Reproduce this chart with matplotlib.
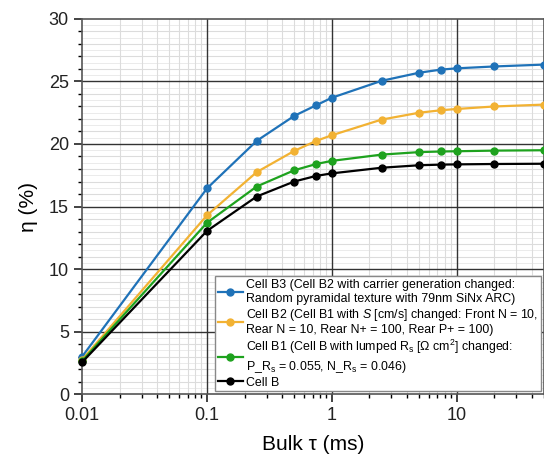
import matplotlib
matplotlib.use("Agg")
import matplotlib.pyplot as plt
from matplotlib.ticker import MultipleLocator, LogLocator, FixedLocator, NullFormatter, FixedFormatter

plt.rcParams['font.family'] = ['Liberation Sans', 'DejaVu Sans']
plt.rcParams['mathtext.fontset'] = 'custom'
plt.rcParams['mathtext.rm'] = 'Liberation Sans'
plt.rcParams['mathtext.it'] = 'Liberation Sans:italic'

tau = [0.01, 0.1, 0.25, 0.5, 0.75, 1, 2.5, 5, 7.5, 10, 20, 50]
eta_b3 = [3.0, 16.45, 20.25, 22.25, 23.1, 23.7, 25.05, 25.7, 25.95, 26.05, 26.2, 26.35]
eta_b2 = [2.75, 14.3, 17.75, 19.45, 20.25, 20.7, 21.95, 22.5, 22.7, 22.8, 23.0, 23.15]
eta_b1 = [2.65, 13.7, 16.6, 17.9, 18.4, 18.65, 19.15, 19.35, 19.4, 19.42, 19.47, 19.5]
eta_b = [2.55, 13.05, 15.8, 17.0, 17.45, 17.65, 18.1, 18.3, 18.35, 18.37, 18.4, 18.42]

labels = [
    "Cell B3 (Cell B2 with carrier generation changed:\nRandom pyramidal texture with 79nm SiNx ARC)",
    "Cell B2 (Cell B1 with $\\it{S}$ [cm/s] changed: Front N = 10,\nRear N = 10, Rear N+ = 100, Rear P+ = 100)",
    "Cell B1 (Cell B with lumped R$_\\mathrm{s}$ [\u03a9 cm$^\\mathrm{2}$] changed:\nP_R$_\\mathrm{s}$ = 0.055, N_R$_\\mathrm{s}$ = 0.046)",
    "Cell B",
]
colors = ["#1f72b8", "#f2b233", "#1ea21e", "#000000"]
series = [eta_b3, eta_b2, eta_b1, eta_b]

fig = plt.figure(figsize=(5.44, 4.62), dpi=100)
ax = fig.add_axes([0.151, 0.147, 0.849, 0.812])

for y, c, lab in zip(series, colors, labels):
    ax.plot(tau, y, color=c, marker='o', markersize=5, linewidth=1.6, label=lab, clip_on=False, zorder=3)

ax.set_xscale('log')
ax.set_xlim(0.01, 50)
ax.set_ylim(0, 30)
xmaj = [0.01, 0.1, 1, 10]
ax.xaxis.set_major_locator(FixedLocator(xmaj))
ax.xaxis.set_major_formatter(FixedFormatter(['0.01', '0.1', '1', '10']))
ax.xaxis.set_minor_locator(LogLocator(base=10, subs=range(2, 10), numticks=20))
ax.xaxis.set_minor_formatter(NullFormatter())
ax.yaxis.set_major_locator(MultipleLocator(5))
ax.yaxis.set_minor_locator(MultipleLocator(1))

# light minor grid
ax.grid(which='minor', color='#dcdcdc', linewidth=0.8, zorder=0)
for v in [i * 0.5 for i in range(1, 60, 2)]:
    ax.axhline(v, color='#e8e8e8', linewidth=0.6, zorder=0.2)
# dark major grid on top of minor grid
for xv in xmaj[1:]:
    ax.axvline(xv, color='#333333', linewidth=1.0, zorder=1)
for yv in range(5, 30, 5):
    ax.axhline(yv, color='#333333', linewidth=1.0, zorder=1)
ax.set_axisbelow(True)

ax.tick_params(which='major', direction='out', length=6, width=1.2, labelsize=13, colors='#222222')
ax.tick_params(which='minor', direction='out', length=3, width=1.0)
for s in ax.spines.values():
    s.set_color('#555555')
    s.set_linewidth(1.2)

ax.set_xlabel("Bulk \u03c4 (ms)", fontsize=15, labelpad=8)
ax.set_ylabel("\u03b7 (%)", fontsize=15, labelpad=8)

leg = ax.legend(loc='lower right', fontsize=8.9, frameon=True, fancybox=False,
                edgecolor='#888888', framealpha=1, borderaxespad=0.25,
                handlelength=2.0, handletextpad=0.3, borderpad=0.2, labelspacing=0.15)
leg.get_frame().set_linewidth(1.0)
leg.set_zorder(5)

fig.savefig("out.png", dpi=100)
